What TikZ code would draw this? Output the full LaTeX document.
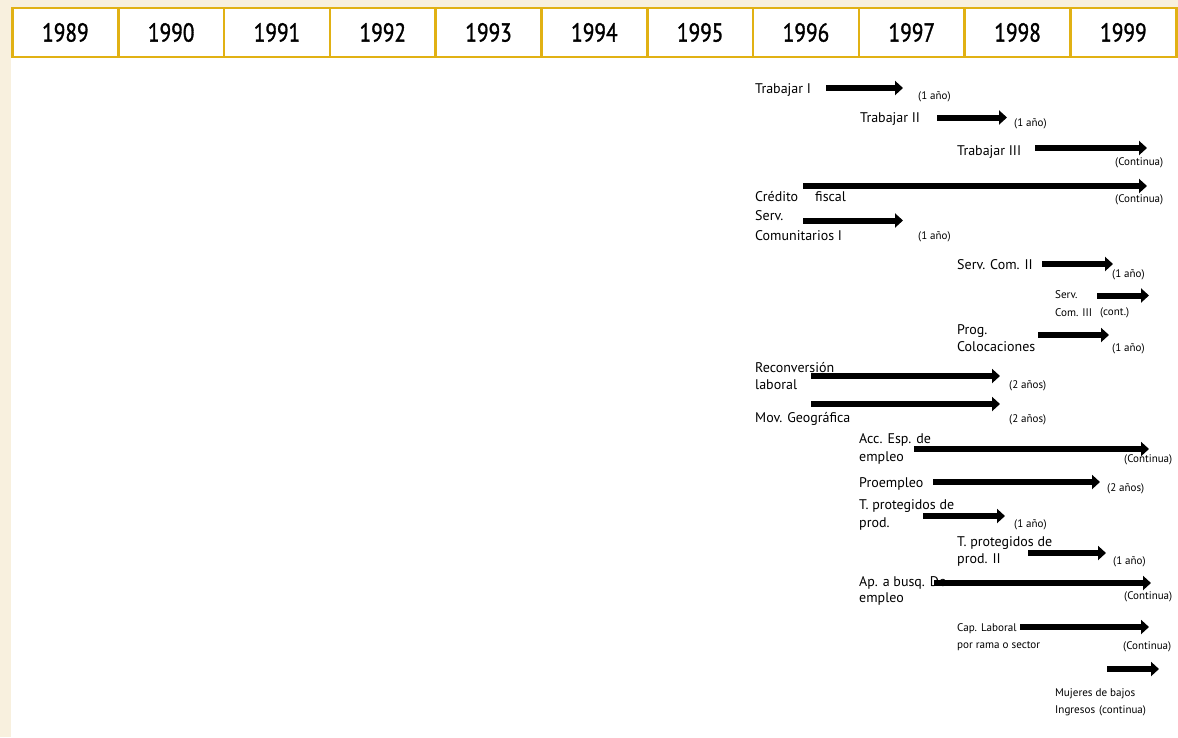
\documentclass[tikz,border=0pt]{standalone}
\usepackage{fontspec}
\usetikzlibrary{arrows.meta}
\setmainfont{PT Sans}
\newfontfamily\yearfont[FakeStretch=0.82,FakeBold=1.2]{PT Sans}
\definecolor{cream}{RGB}{248,240,222}
\definecolor{gold}{RGB}{225,177,20}
\tikzset{
  bar/.style={line width=6pt, -{Triangle[length=8pt,width=14pt]}},
  lbl/.style={anchor=base west, inner sep=0pt, font=\fontsize{14}{16}\selectfont},
  lbls/.style={anchor=base west, inner sep=0pt, font=\fontsize{11.1}{14}\selectfont},
  dur/.style={anchor=base west, inner sep=0pt, font=\fontsize{11}{13}\selectfont},
  year/.style={font=\yearfont\fontsize{26}{30}\selectfont, inner sep=0pt},
  cell/.style={draw=gold, line width=2.5pt}
}
\begin{document}
\begin{tikzpicture}[x=1pt,y=-1pt]
\useasboundingbox (0,0) rectangle (1178,737);
\fill[cream] (0,0) rectangle (1178,737);
\fill[white] (11,7) rectangle (1178,737);
% header
\foreach \i/\yr in {0/1989,1/1990,2/1991,3/1992,4/1993,5/1994,6/1995,7/1996,8/1997,9/1998,10/1999}{
  \draw[cell] ({12.5+105.8*\i},8) rectangle ({12.5+105.8*(\i+1)},57);
  \node[year] (y\yr) at ({12.5+105.8*(\i+0.5)},32.5) {\yr};
}
% arrows
\foreach \n/\xa/\xb/\yy in {a1/826/903/88, a2/937/1007/117.5, a3/1035/1147/148, a4/803/1147/186,
  a5/803/903/220.5, a6/1042/1113/264, a7/1097/1149/295.5, a8/1038/1109/335, a9/811/1000/376,
  a10/811/1000/404, a11/914/1149/449, a12/933/1100/482, a13/923/1005/516, a14/1028/1106/553,
  a15/934/1151/583, a16/1020/1149/627, a17/1107/1159/669}{
  \coordinate (\n s) at (\xa,\yy);
  \coordinate (\n e) at (\xb,\yy);
  \draw[bar] (\n s) -- (\n e);
}
% labels
\node[lbl] (t1) at (755,93) {Trabajar I};
\node[lbl] (t2) at (860,122) {Trabajar II};
\node[lbl] (t3) at (957,155) {Trabajar III};
\node[lbl] (t4a) at (755,201) {Crédito};
\node[lbl] (t4b) at (815,201) {fiscal};
\node[lbl] (t5a) at (755,220) {Serv.};
\node[lbl] (t5b) at (755,240) {Comunitarios I};
\node[lbl] (t6) at (957,269) {Serv. Com. II};
\node[lbls] (t7a) at (1055,298) {Serv.};
\node[lbls] (t7b) at (1055,316) {Com. III};
\node[lbl] (t8a) at (957,334) {Prog.};
\node[lbl] (t8b) at (957,351) {Colocaciones};
\node[lbl] (t9a) at (755,372) {Reconversión};
\node[lbl] (t9b) at (755,389) {laboral};
\node[lbl] (t10) at (755,422) {Mov. Geográfica};
\node[lbl] (t11a) at (859,443) {Acc. Esp. de};
\node[lbl] (t11b) at (859,461) {empleo};
\node[lbl] (t12) at (859,487) {Proempleo};
\node[lbl] (t13a) at (859,509) {T. protegidos de};
\node[lbl] (t13b) at (859,527) {prod.};
\node[lbl] (t14a) at (957,546) {T. protegidos de};
\node[lbl] (t14b) at (957,563) {prod. II};
\node[lbl] (t15a) at (859,586) {Ap. a busq. De};
\node[lbl] (t15b) at (859,602) {empleo};
\node[lbls] (t16a) at (957,631) {Cap. Laboral};
\node[lbls] (t16b) at (957,648) {por rama o sector};
\node[lbls] (t17a) at (1055,696) {Mujeres de bajos};
\node[lbls] (t17b) at (1055,713) {Ingresos};
% durations
\node[dur] (d1) at (918,99) {(1 año)};
\node[dur] (d2) at (1014,126) {(1 año)};
\node[dur] (d3) at (1115,165) {(Continua)};
\node[dur] (d4) at (1115,202) {(Continua)};
\node[dur] (d5) at (918,239) {(1 año)};
\node[dur] (d6) at (1112,277) {(1 año)};
\node[dur] (d7) at (1100,315) {(cont.)};
\node[dur] (d8) at (1112,351) {(1 año)};
\node[dur] (d9) at (1009,388) {(2 años)};
\node[dur] (d10) at (1009,422) {(2 años)};
\node[dur] (d11) at (1124,462) {(Continua)};
\node[dur] (d12) at (1107,491) {(2 años)};
\node[dur] (d13) at (1014,527) {(1 año)};
\node[dur] (d14) at (1113,564) {(1 año)};
\node[dur] (d15) at (1124,599) {(Continua)};
\node[dur] (d16) at (1123,649) {(Continua)};
\node[dur] (d17) at (1099,713) {(continua)};
\end{tikzpicture}
\end{document}
